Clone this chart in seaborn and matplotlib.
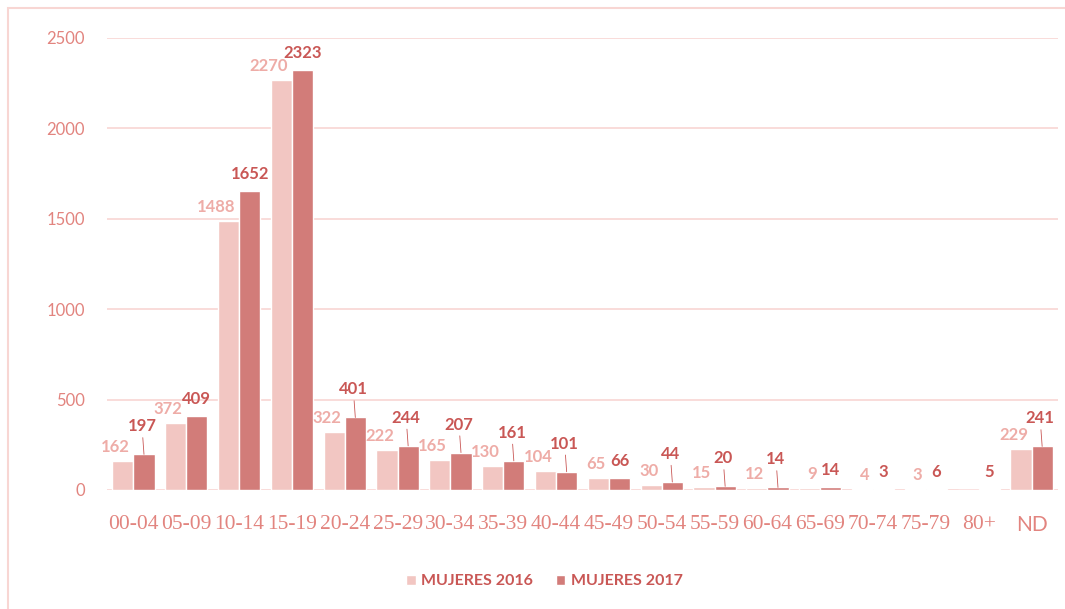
import numpy as np
import pandas as pd
import matplotlib
matplotlib.use("Agg")
import matplotlib.pyplot as plt
import seaborn as sns
from matplotlib.patches import Rectangle

# data
grupos = ['00-04', '05-09', '10-14', '15-19', '20-24', '25-29', '30-34', '35-39', '40-44',
          '45-49', '50-54', '55-59', '60-64', '65-69', '70-74', '75-79', '80+', 'ND']
mujeres_2016 = [162, 372, 1488, 2270, 322, 222, 165, 130, 104, 65, 30, 15, 12, 9, 4, 3, 0, 229]
mujeres_2017 = [197, 409, 1652, 2323, 401, 244, 207, 161, 101, 66, 44, 20, 14, 14, 3, 6, 5, 241]
series = ['MUJERES 2016', 'MUJERES 2017']

# labels of 2017 that sit higher with a thin leader line
con_linea = ['00-04', '20-24', '25-29', '30-34', '35-39', '40-44', '50-54', '55-59', '60-64', 'ND']

c16 = '#f2c6c2'
c17 = '#d27c79'
txt16 = '#eeaca7'
txt17 = '#c95755'
tick_col = '#e2847f'
grid_col = '#f8d6d3'

df = pd.DataFrame({
    'grupo': grupos * 2,
    'valor': mujeres_2016 + mujeres_2017,
    'serie': [series[0]] * len(grupos) + [series[1]] * len(grupos),
})

sns.set_style('white')
plt.rcParams['font.family'] = ['Lato', 'DejaVu Sans']

fig = plt.figure(figsize=(10.65, 6.09), dpi=100)
ax = fig.add_axes([107 / 1065, 119 / 609, 951 / 1065, 452 / 609])

sns.barplot(data=df, x='grupo', y='valor', hue='serie', order=grupos,
            palette=[c16, c17], width=0.8, ax=ax, saturation=1)

ax.set_ylim(0, 2500)
ax.set_xlim(-0.5, len(grupos) - 0.5)
ax.set_yticks(range(0, 2501, 500))
ax.yaxis.grid(True, color=grid_col, linewidth=1.2)
ax.set_axisbelow(True)
for s in ax.spines.values():
    s.set_visible(False)
ax.set_xlabel('')
ax.set_ylabel('')
ax.tick_params(axis='y', colors=tick_col, labelsize=12, length=0, pad=16)
ax.tick_params(axis='x', colors=tick_col, length=0, pad=18)
for lab in ax.get_xticklabels():
    if lab.get_text() == 'ND':
        lab.set_fontfamily(['Lato', 'DejaVu Sans'])
        lab.set_fontsize(15)
    else:
        lab.set_fontfamily(['Liberation Serif', 'DejaVu Serif'])
        lab.set_fontsize(15.5)

# data labels
for cont, vals, col, idx in zip(ax.containers, [mujeres_2016, mujeres_2017],
                                [txt16, txt17], [0, 1]):
    for bar, v, g in zip(cont, vals, grupos):
        if v == 0:
            continue
        xc = bar.get_x() + bar.get_width() / 2
        if idx == 0:
            ax.annotate(str(v), (xc, v), xytext=(7, 6), textcoords='offset pixels',
                        ha='right', va='bottom', color=col, fontsize=12, fontweight='bold')
        elif g in con_linea:
            ax.annotate(str(v), (xc, v), xytext=(-2, 20), textcoords='offset pixels',
                        ha='center', va='bottom', color=col, fontsize=12, fontweight='bold',
                        arrowprops=dict(arrowstyle='-', color=col, lw=0.6,
                                        shrinkA=0, shrinkB=0))
        else:
            ax.annotate(str(v), (xc, v), xytext=(0, 9), textcoords='offset pixels',
                        ha='center', va='bottom', color=col, fontsize=12, fontweight='bold')

leg = ax.legend(loc='upper center', bbox_to_anchor=(0.46, -0.155), ncol=2, frameon=False,
                handlelength=0.6, handleheight=0.6, handletextpad=0.35, columnspacing=1.4,
                prop={'size': 11.5, 'weight': 'bold'})
for t in leg.get_texts():
    t.set_color(txt17)

# outer frame of the chart area
fig.patches.append(Rectangle((8 / 1065, -0.02), 1.2, 1 - 8 / 609 + 0.02,
                             transform=fig.transFigure, fill=False,
                             edgecolor=grid_col, linewidth=1.5))

fig.savefig('out.png', dpi=100)
